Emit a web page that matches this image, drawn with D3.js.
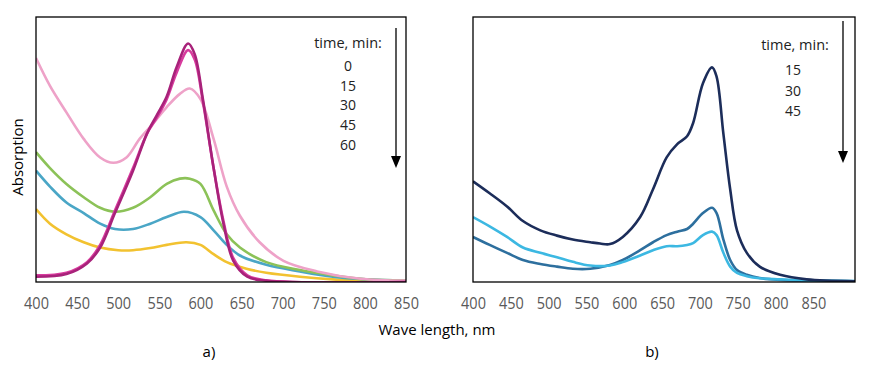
<!DOCTYPE html>
<html>
<head>
<meta charset="utf-8">
<script src="https://cdn.jsdelivr.net/npm/d3@7"></script>
<style>
  body { margin: 0; background: #fff; }
  svg { display: block; }
  text { font-family: "Open Sans", sans-serif; }
</style>
</head>
<body>
<svg id="chart" width="876" height="369"></svg>
<script>
// wavelength ticks
const ticksA = [400, 450, 500, 550, 600, 650, 700, 750, 800, 850];
const ticksB = [400, 450, 500, 550, 600, 650, 700, 750, 800, 850];

// legend text
const timesA = ["0", "15", "30", "45", "60"];
const timesB = ["15", "30", "45"];

// panel a spectra: [wavelength nm, absorption (a.u.)]
const a_magentaDark = [[400,0.02],[437,0.03],[462,0.07],[478,0.13],[496,0.26],[518,0.42],[535,0.56],[547,0.63],[559,0.70],[571,0.81],[585,0.90],[593,0.86],[603,0.69],[616,0.43],[628,0.22],[640,0.08],[657,0.02],[680,0.005],[850,0.0]];
const a_magenta = [[400,0.025],[437,0.035],[462,0.075],[478,0.14],[496,0.27],[518,0.43],[535,0.56],[547,0.62],[559,0.69],[571,0.79],[585,0.875],[593,0.84],[603,0.68],[616,0.43],[628,0.23],[640,0.09],[657,0.025],[680,0.006],[850,0.0]];
const a_pink = [[400,0.845],[417,0.74],[437,0.64],[458,0.54],[478,0.47],[494,0.45],[510,0.47],[526,0.54],[543,0.60],[559,0.66],[575,0.71],[587,0.73],[600,0.69],[616,0.54],[632,0.36],[648,0.25],[672,0.15],[701,0.08],[742,0.04],[795,0.012],[850,0.005]];
const a_green = [[400,0.49],[417,0.43],[437,0.37],[458,0.32],[478,0.28],[496,0.265],[518,0.28],[539,0.32],[559,0.37],[575,0.39],[587,0.39],[600,0.37],[616,0.27],[632,0.18],[648,0.13],[680,0.075],[721,0.045],[761,0.025],[801,0.01],[850,0.005]];
const a_blue = [[400,0.42],[417,0.36],[437,0.30],[458,0.26],[478,0.22],[496,0.20],[518,0.20],[539,0.22],[559,0.245],[580,0.265],[600,0.245],[616,0.195],[632,0.14],[648,0.10],[680,0.065],[721,0.04],[761,0.02],[801,0.01],[850,0.005]];
const a_yellow = [[400,0.275],[417,0.22],[437,0.18],[458,0.15],[478,0.13],[500,0.12],[518,0.12],[539,0.128],[559,0.14],[583,0.15],[600,0.14],[616,0.105],[632,0.075],[656,0.05],[680,0.035],[721,0.02],[761,0.01],[801,0.005],[850,0.003]];

// panel b spectra
const b_navy = [[400,0.38],[422,0.335],[445,0.285],[466,0.23],[489,0.195],[511,0.175],[532,0.16],[555,0.15],[568,0.145],[581,0.143],[598,0.17],[621,0.245],[638,0.35],[656,0.47],[670,0.52],[683,0.55],[691,0.60],[704,0.75],[716,0.81],[722,0.775],[731,0.56],[740,0.35],[749,0.195],[762,0.11],[779,0.058],[806,0.027],[841,0.01],[905,0.003]];
const b_blue = [[400,0.17],[422,0.14],[445,0.11],[466,0.083],[489,0.068],[511,0.058],[532,0.05],[555,0.05],[581,0.064],[598,0.083],[621,0.12],[638,0.15],[656,0.177],[670,0.19],[683,0.20],[691,0.22],[704,0.26],[716,0.28],[722,0.26],[731,0.16],[740,0.083],[749,0.045],[762,0.027],[779,0.015],[806,0.008],[841,0.005],[905,0.003]];
const b_cyan = [[400,0.245],[422,0.21],[445,0.17],[466,0.13],[489,0.11],[511,0.093],[532,0.076],[555,0.062],[581,0.062],[598,0.075],[621,0.10],[638,0.12],[656,0.135],[670,0.135],[683,0.14],[691,0.147],[704,0.177],[716,0.19],[722,0.177],[731,0.11],[740,0.058],[749,0.034],[762,0.022],[779,0.014],[806,0.01],[841,0.006],[905,0.004]];

const seriesA = [
  {data: a_yellow, color: "#f2c230"},
  {data: a_blue, color: "#4aa6c6"},
  {data: a_green, color: "#8cc258"},
  {data: a_pink, color: "#eea2c8"},
  {data: a_magenta, color: "#d83c9e"},
  {data: a_magentaDark, color: "#a8227a"}
];
const seriesB = [
  {data: b_blue, color: "#2d6f9e"},
  {data: b_cyan, color: "#3cb8e2"},
  {data: b_navy, color: "#1c2d5a"}
];

const svg = d3.select("#chart");

function drawPanel(opt) {
  const x = d3.scaleLinear().domain(opt.xDomain).range([opt.left, opt.right]);
  const y = d3.scaleLinear().domain([0, 1]).range([opt.bottom, opt.top]);

  const g = svg.append("g");

  g.append("clipPath").attr("id", opt.id + "-clip")
    .append("rect")
    .attr("x", opt.left).attr("y", opt.top)
    .attr("width", opt.right - opt.left).attr("height", opt.bottom - opt.top);

  const line = d3.line()
    .x(d => x(d[0]))
    .y(d => y(d[1]))
    .curve(d3.curveCatmullRom.alpha(0.5));

  g.append("g")
    .attr("clip-path", `url(#${opt.id}-clip)`)
    .selectAll("path")
    .data(opt.series)
    .enter()
    .append("path")
    .attr("d", d => line(d.data))
    .attr("fill", "none")
    .attr("stroke", d => d.color)
    .attr("stroke-width", 2.6)
    .attr("stroke-linejoin", "round");

  // frame
  g.append("rect")
    .attr("x", opt.left).attr("y", opt.top)
    .attr("width", opt.right - opt.left).attr("height", opt.bottom - opt.top)
    .attr("fill", "none")
    .attr("stroke", "#000")
    .attr("stroke-width", 1.3);

  // x tick labels (no tick marks)
  const axis = d3.axisBottom(x).tickValues(opt.ticks).tickSize(0).tickPadding(14);
  const ax = g.append("g")
    .attr("transform", `translate(0,${opt.bottom})`)
    .call(axis);
  ax.select(".domain").remove();
  ax.selectAll("text")
    .attr("fill", "#595959")
    .style("font-size", "14.5px")
    .attr("transform", "scale(1,1.1)");

  // legend
  g.append("text")
    .attr("x", opt.legendX).attr("y", opt.legendTop)
    .attr("text-anchor", "middle")
    .style("font-size", "14.5px")
    .attr("fill", "#222")
    .text("time, min:");
  g.selectAll(".t")
    .data(opt.times)
    .enter()
    .append("text")
    .attr("x", opt.numX)
    .attr("y", (d, i) => opt.numTop + i * opt.numStep)
    .attr("text-anchor", "middle")
    .style("font-size", "14px")
    .attr("fill", "#222")
    .text(d => d);

  // downward arrow
  g.append("line")
    .attr("x1", opt.arrowX).attr("x2", opt.arrowX)
    .attr("y1", opt.arrowTop).attr("y2", opt.arrowBottom - 10)
    .attr("stroke", "#000")
    .attr("stroke-width", 1.3);
  g.append("path")
    .attr("d", `M${opt.arrowX - 5},${opt.arrowBottom - 12} L${opt.arrowX + 5},${opt.arrowBottom - 12} L${opt.arrowX},${opt.arrowBottom} Z`)
    .attr("fill", "#000");

  g.append("text")
    .attr("x", (opt.left + opt.right) / 2 - 12).attr("y", 357)
    .attr("text-anchor", "middle")
    .style("font-size", "15px")
    .attr("fill", "#000")
    .text(opt.label);
}

drawPanel({
  id: "a", left: 36, right: 406, top: 17, bottom: 282,
  xDomain: [400, 850], ticks: ticksA, series: seriesA, times: timesA,
  legendX: 348, legendTop: 48, numX: 348, numTop: 71, numStep: 19.7,
  arrowX: 396, arrowTop: 28, arrowBottom: 168, label: "a)"
});

drawPanel({
  id: "b", left: 473, right: 855, top: 17, bottom: 282,
  xDomain: [400, 905], ticks: ticksB, series: seriesB, times: timesB,
  legendX: 795, legendTop: 50, numX: 793, numTop: 75, numStep: 20.5,
  arrowX: 843, arrowTop: 21, arrowBottom: 163, label: "b)"
});

// shared axis titles
svg.append("text")
  .attr("x", 437).attr("y", 335)
  .attr("text-anchor", "middle")
  .style("font-size", "15px")
  .attr("fill", "#000")
  .text("Wave length, nm");

svg.append("text")
  .attr("transform", "translate(23,157) rotate(-90)")
  .attr("text-anchor", "middle")
  .style("font-size", "15px")
  .attr("fill", "#000")
  .text("Absorption");
</script>
</body>
</html>
